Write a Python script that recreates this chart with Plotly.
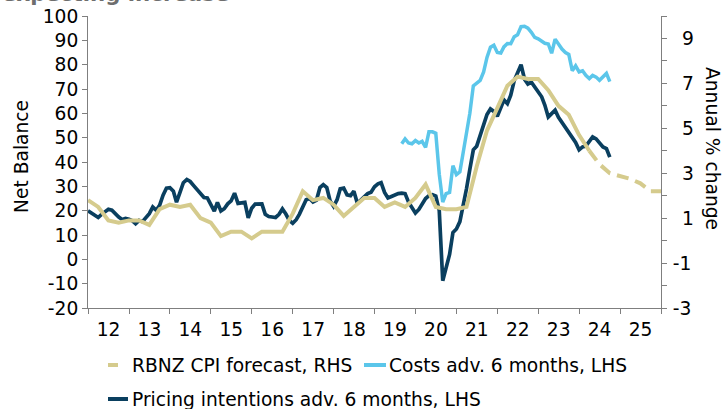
import plotly.graph_objects as go
import pandas as pd

# ---------------- data ----------------
pricing_start = "2012-01-01"   # monthly, "Pricing intentions adv. 6 months" (LHS)
pricing = [20.0, 19.0, 18.0, 17.2, 18.5, 19.5, 20.6, 20.2, 18.7, 17.4, 16.4, 16.8,
           16.5, 15.8, 14.6, 16.0, 15.5, 17.5, 18.8, 21.5, 20.2, 22.2, 26.4, 29.2,
           29.4, 28.0, 23.5, 27.5, 31.5, 32.8, 32.0, 30.3, 28.5, 27.0, 25.4, 25.2,
           22.5, 19.8, 23.4, 19.9, 20.8, 22.8, 24.0, 27.2, 23.0, 23.3, 23.4, 17.0,
           21.0, 22.7, 22.6, 22.8, 18.5, 17.6, 17.4, 17.2, 18.5, 20.7, 18.6, 16.0,
           14.8, 16.3, 18.5, 21.5, 24.5, 25.0, 23.6, 24.3, 29.5, 30.7, 29.5, 24.0,
           21.8, 24.5, 29.0, 29.3, 26.5, 26.2, 28.0, 23.0, 24.5, 26.0, 27.0, 27.6,
           29.8, 31.0, 31.5, 27.5, 25.2, 25.8, 26.6, 27.0, 27.2, 27.0, 23.5, 21.3,
           19.0, 20.5, 23.0, 25.0, 26.2, 26.6, 26.0, 20.0, -8.8, -2.7, 2.0, 11.0,
           12.5, 15.5, 21.5, 29.0, 37.0, 45.0, 46.5, 51.0, 56.0, 59.5, 61.8, 60.8,
           58.8, 62.0, 65.5, 64.0, 67.5, 73.5, 76.5, 80.0, 74.0, 72.0, 72.8, 71.0,
           68.9, 66.8, 63.4, 58.5, 59.9, 61.3, 58.4, 56.4, 54.2, 52.2, 50.0, 48.0,
           45.0, 46.2, 46.5, 48.7, 50.3, 49.5, 47.8, 46.2, 45.5, 42.0]

costs_start = "2019-09-01"     # monthly, "Costs adv. 6 months" (LHS)
costs = [47.5, 49.5, 47.8, 47.5, 48.8, 47.8, 48.5, 46.0, 52.4, 52.4,
         51.8, 35.0, 23.5, 27.0, 27.5, 38.5, 34.8, 36.0, 43.5, 51.0,
         60.0, 71.3, 72.2, 73.5, 77.0, 83.0, 87.2, 88.0, 85.0, 84.8,
         87.3, 88.7, 88.6, 91.5, 92.3, 95.6, 95.8, 95.0, 93.3, 91.2,
         90.6, 89.8, 88.8, 88.5, 84.7, 90.5, 88.3, 86.4, 85.0, 84.2,
         77.5, 79.5, 77.0, 77.5, 75.6, 74.3, 75.6, 74.9, 73.6, 75.0,
         76.4, 73.0]

cpi_start = "2012-01-01"       # quarterly CPI, annual % change (RHS)
cpi = [1.8, 1.5, 0.9, 0.8, 0.9, 0.9, 0.7, 1.4, 1.6, 1.5, 1.6, 1.0,
       0.8, 0.2, 0.4, 0.4, 0.1, 0.4, 0.4, 0.4, 1.2, 2.2, 1.8, 1.9,
       1.6, 1.1, 1.5, 1.9, 1.9, 1.5, 1.7, 1.5, 1.9, 2.5, 1.5, 1.4,
       1.4, 1.5, 3.3, 4.9, 5.9, 6.9, 7.3, 7.2, 7.2, 6.7, 6.0, 5.6,
       4.7, 4.0]

fc_start = "2024-04-01"        # RBNZ CPI forecast (RHS)
cpi_fc = [4.0, 3.4, 3.0, 2.85, 2.75, 2.55, 2.2, 2.2]

year_labels_fmt = "%y"
left_ticks = [-20, -10, 0, 10, 20, 30, 40, 50, 60, 70, 80, 90, 100]
left_labels = ["-20", "-10", "0", "10", "20", "30", "40", "50", "60", "70", "80", "90", "100"]
right_ticks = [-3, -1, 1, 3, 5, 7, 9]
right_labels = ["-3", "-1", "\u20021", "\u20023", "\u20025", "\u20027", "\u20029"]
right_minor = list(range(-3, 11))

# ---------------- styling ----------------
NAVY = "#0A3F5F"
SKY = "#5BC6EA"
KHAKI = "#D5CB8D"
AXIS = "#7F7F7F"
FONT = "DejaVu Sans"
FS = 18.67

pricing_dates = pd.date_range(pricing_start, periods=len(pricing), freq="MS")
costs_dates = pd.date_range(costs_start, periods=len(costs), freq="MS")
cpi_dates = pd.date_range(cpi_start, periods=len(cpi), freq="3MS")
fc_dates = pd.date_range(fc_start, periods=len(cpi_fc), freq="3MS")

fig = go.Figure()
fig.add_trace(go.Scatter(x=costs_dates, y=costs, mode="lines",
                         name="Costs adv. 6 months, LHS",
                         line=dict(color=SKY, width=3.5)))
fig.add_trace(go.Scatter(x=pricing_dates, y=pricing, mode="lines",
                         name="Pricing intentions adv. 6 months, LHS",
                         line=dict(color=NAVY, width=3.7)))
fig.add_trace(go.Scatter(x=cpi_dates, y=cpi, mode="lines", yaxis="y2",
                         name="CPI, RHS", line=dict(color=KHAKI, width=4)))
fig.add_trace(go.Scatter(x=fc_dates, y=cpi_fc, mode="lines", yaxis="y2",
                         name="RBNZ CPI forecast, RHS",
                         line=dict(color=KHAKI, width=4, dash="12px,7px")))

# plot area in pixels: x 88..661, y 16..308
L, R, T, B = 88, 66, 16, 101
PW, PH = 727 - L - R, 409 - T - B


def px(xp):
    return (xp - L) / PW


def py(yp):
    return (409 - B - yp) / PH


shapes = []
annotations = []
# custom legend
legend_rows = [
    (108, 118, 365, KHAKI, 130, "RBNZ CPI forecast, RHS"),
    (364, 386, 365, SKY, 387, "Costs adv. 6 months, LHS"),
    (108, 128, 399, NAVY, 130, "Pricing intentions adv. 6 months, LHS"),
]
for x0, x1, yc, col, xt, txt in legend_rows:
    shapes.append(dict(type="line", xref="paper", yref="paper",
                       x0=px(x0), x1=px(x1), y0=py(yc), y1=py(yc),
                       line=dict(color=col, width=4)))
    annotations.append(dict(xref="paper", yref="paper", x=px(xt), y=py(yc),
                            xanchor="left", yanchor="middle", text=txt,
                            showarrow=False, font=dict(family=FONT, size=FS, color="black")))

annotations.append(dict(xref="paper", yref="paper", x=px(21), y=py(157),
                        text="Net Balance", textangle=-90, showarrow=False,
                        xanchor="center", yanchor="middle",
                        font=dict(family=FONT, size=FS, color="black")))
annotations.append(dict(xref="paper", yref="paper", x=px(713), y=py(148),
                        text="Annual % change", textangle=90, showarrow=False,
                        xanchor="center", yanchor="middle",
                        font=dict(family=FONT, size=FS, color="black")))
annotations.append(dict(xref="paper", yref="paper", x=px(0), y=py(8),
                        text="<b>expecting increase</b>", showarrow=False,
                        xanchor="left", yanchor="bottom",
                        font=dict(family=FONT, size=21.3, color="#6E6E6E")))

fig.update_layout(
    width=727, height=409,
    margin=dict(l=L, r=R, t=T, b=B, autoexpand=False),
    paper_bgcolor="white", plot_bgcolor="white",
    showlegend=False,
    font=dict(family=FONT, size=FS, color="black"),
    shapes=shapes, annotations=annotations,
    xaxis=dict(type="date", range=["2012-01-01", "2026-01-01"],
               tick0="2012-01-01", dtick="M12", tickformat=year_labels_fmt,
               ticklabelmode="period", ticks="outside", ticklen=5,
               tickcolor=AXIS, showline=True, linecolor=AXIS, linewidth=1,
               showgrid=False, zeroline=False,
               tickfont=dict(family=FONT, size=FS, color="black")),
    yaxis=dict(range=[-20, 100], tickmode="array", tickvals=left_ticks,
               ticktext=left_labels, ticks="outside", ticklen=5,
               tickcolor=AXIS, showline=True, linecolor=AXIS, linewidth=1,
               showgrid=False, zeroline=False,
               tickfont=dict(family=FONT, size=FS, color="black")),
    yaxis2=dict(range=[-3, 10], overlaying="y", side="right",
                tickmode="array", tickvals=right_ticks, ticktext=right_labels,
                ticks="outside", ticklen=5, tickcolor=AXIS,
                ticklabelstandoff=2,
                minor=dict(tickmode="array", tickvals=right_minor,
                           ticks="outside", ticklen=5, tickcolor=AXIS),
                showline=True, linecolor=AXIS, linewidth=1,
                showgrid=False, zeroline=False,
                tickfont=dict(family=FONT, size=FS, color="black")),
)

fig.write_html("out.html", config={"displayModeBar": False},
               post_script="document.body.style.margin='0px';")
